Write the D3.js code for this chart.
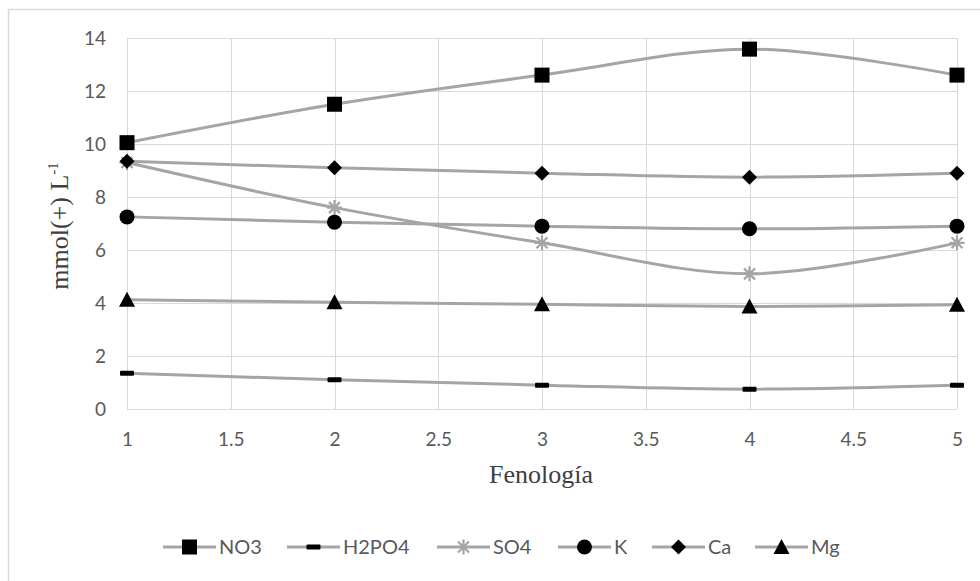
<!DOCTYPE html>
<html><head><meta charset="utf-8">
<script src="https://cdn.jsdelivr.net/npm/d3@7"></script>
<style>body{margin:0;background:#fff}svg{display:block}</style>
</head><body>
<svg id="c" width="980" height="581"></svg>
<script>
const xValues = [1, 2, 3, 4, 5];
const seriesNames = ["NO3", "H2PO4", "SO4", "K", "Ca", "Mg"];
const NO3 = [10.05, 11.5, 12.6, 13.58, 12.6];
const H2PO4 = [1.35, 1.1, 0.9, 0.75, 0.9];
const SO4 = [9.3, 7.6, 6.27, 5.1, 6.27];
const K = [7.25, 7.05, 6.9, 6.8, 6.9];
const Ca = [9.35, 9.1, 8.9, 8.75, 8.9];
const Mg = [4.12, 4.03, 3.95, 3.87, 3.93];
const xTicks = [1, 1.5, 2, 2.5, 3, 3.5, 4, 4.5, 5];
const yTicks = [0, 2, 4, 6, 8, 10, 12, 14];
const markers = ["square", "dash", "star", "circle", "diamond", "triangle"];
const seriesData = [NO3, H2PO4, SO4, K, Ca, Mg];

const svg = d3.select("#c");
svg.append("rect").attr("x", 8.5).attr("y", 9.5).attr("width", 1000).attr("height", 1000)
  .attr("fill", "#fff").attr("stroke", "#d9d9d9").attr("stroke-width", 1.5);

const x = d3.scaleLinear().domain([1, 5]).range([127, 957]);
const y = d3.scaleLinear().domain([0, 14]).range([409, 38]);
const tickFont = "Lato, 'Open Sans', sans-serif";
const serif = "'Liberation Serif', 'Times New Roman', serif";
const grey = "#595959";

const g = svg.append("g");
g.selectAll(".hg").data(yTicks).join("line")
  .attr("x1", x(1)).attr("x2", x(5)).attr("y1", d => Math.round(y(d)) + 0.5).attr("y2", d => Math.round(y(d)) + 0.5)
  .attr("stroke", "#d9d9d9").attr("stroke-width", 1);
g.selectAll(".vg").data(xTicks).join("line")
  .attr("y1", y(0)).attr("y2", y(14)).attr("x1", d => Math.round(x(d)) + 0.5).attr("x2", d => Math.round(x(d)) + 0.5)
  .attr("stroke", "#d9d9d9").attr("stroke-width", 1);

const yAxis = svg.append("g").attr("transform", `translate(${x(1)},0)`)
  .call(d3.axisLeft(y).tickValues(yTicks).tickSize(0).tickPadding(21));
const xAxis = svg.append("g").attr("transform", `translate(0,${y(0)})`)
  .call(d3.axisBottom(x).tickValues(xTicks).tickSize(0).tickPadding(24).tickFormat(d3.format("")));
[yAxis, xAxis].forEach(a => {
  a.select(".domain").remove();
  a.selectAll("text").attr("fill", grey).style("font-family", tickFont).style("font-size", "19px");
});

svg.append("text").attr("transform", "translate(68,226) rotate(-90)").attr("text-anchor", "middle")
  .style("font-family", serif).style("font-size", "26px").attr("fill", "#404040")
  .html('mmol(+) L<tspan dy="-10" font-size="15">-1</tspan>');
svg.append("text").attr("x", 541).attr("y", 483).attr("text-anchor", "middle")
  .style("font-family", serif).style("font-size", "26px").attr("fill", "#404040")
  .text("Fenología");

const lineGen = d3.line().x((d, i) => x(xValues[i])).y(d => y(d)).curve(d3.curveCatmullRom.alpha(0));

function drawMarker(sel, type) {
  if (type === "square") sel.append("rect").attr("x", -7.5).attr("y", -7.5).attr("width", 15).attr("height", 15).attr("fill", "#000");
  else if (type === "dash") sel.append("rect").attr("x", -7).attr("y", -2.5).attr("width", 14).attr("height", 5).attr("rx", 1).attr("fill", "#000");
  else if (type === "circle") sel.append("circle").attr("r", 7.5).attr("fill", "#000");
  else if (type === "diamond") sel.append("path").attr("d", "M0,-7.5L7.5,0L0,7.5L-7.5,0Z").attr("fill", "#000");
  else if (type === "triangle") sel.append("path").attr("d", "M0,-8L8,7L-8,7Z").attr("fill", "#000");
  else if (type === "star") {
    sel.append("path").attr("d", "M-7.5,0H7.5M0,-7.5V7.5M-5.5,-5.5L5.5,5.5M-5.5,5.5L5.5,-5.5")
      .attr("stroke", "#a5a5a5").attr("stroke-width", 2.2).attr("fill", "none");
  }
}

seriesData.forEach(vals => {
  g.append("path").datum(vals).attr("d", lineGen).attr("fill", "none")
    .attr("stroke", "#a5a5a5").attr("stroke-width", 3);
});
seriesData.forEach((vals, si) => {
  vals.forEach((v, i) => {
    const m = g.append("g").attr("transform", `translate(${x(xValues[i])},${y(v)})`);
    drawMarker(m, markers[si]);
  });
});

const legX = [163, 287, 437, 558, 652, 755];
const legY = 547;
seriesNames.forEach((name, i) => {
  const lg = svg.append("g").attr("transform", `translate(${legX[i]},${legY})`);
  lg.append("line").attr("x1", 0).attr("x2", 53).attr("y1", 0).attr("y2", 0).attr("stroke", "#a5a5a5").attr("stroke-width", 3);
  const m = lg.append("g").attr("transform", "translate(26.5,0)");
  drawMarker(m, markers[i]);
  lg.append("text").attr("x", 56).attr("y", 0).attr("dy", "0.36em").attr("fill", grey)
    .style("font-family", tickFont).style("font-size", "20px").text(name);
});
</script>
</body></html>
